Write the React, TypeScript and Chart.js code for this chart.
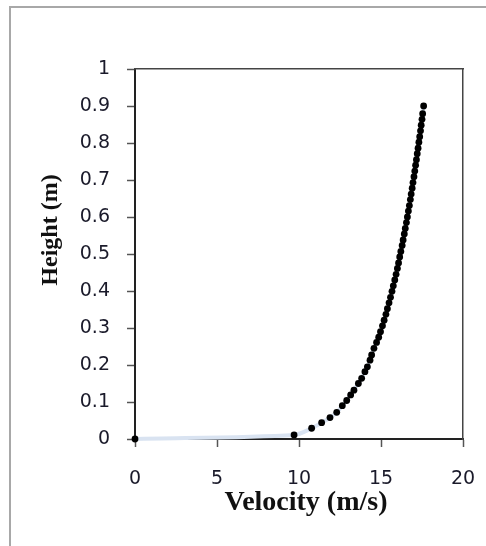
import React, { useEffect, useRef } from "react";
import { Chart, registerables } from "chart.js";

Chart.register(...registerables);

// Velocity (m/s), bottom to top
const velocity: number[] = [
  0, 9.7, 10.77, 11.38, 11.89, 12.3, 12.64, 12.91, 13.15, 13.35, 13.62, 13.82,
  14.02, 14.17, 14.33, 14.43, 14.57, 14.73, 14.86, 14.97, 15.09, 15.19, 15.3,
  15.39, 15.49, 15.58, 15.67, 15.75, 15.84, 15.92, 16.0, 16.07, 16.14, 16.21,
  16.29, 16.35, 16.42, 16.48, 16.55, 16.61, 16.67, 16.73, 16.79, 16.84, 16.9,
  16.95, 17.01, 17.06, 17.11, 17.16, 17.21, 17.26, 17.31, 17.36, 17.41, 17.45,
  17.5, 17.54, 17.6,
];

// Height (m) for each point
const height: number[] = [
  0, 0.011, 0.029, 0.044, 0.058, 0.072, 0.09, 0.104, 0.119, 0.132, 0.15, 0.164,
  0.182, 0.195, 0.213, 0.227, 0.245, 0.261, 0.275, 0.29, 0.306, 0.321, 0.337,
  0.352, 0.368, 0.383, 0.399, 0.414, 0.43, 0.445, 0.461, 0.476, 0.492, 0.507,
  0.523, 0.538, 0.554, 0.569, 0.585, 0.6, 0.616, 0.631, 0.647, 0.662, 0.678,
  0.693, 0.709, 0.724, 0.74, 0.755, 0.771, 0.786, 0.802, 0.817, 0.833, 0.848,
  0.864, 0.879, 0.9,
];

const xTickLabels: string[] = ["0", "5", "10", "15", "20"];
const yTickLabels: string[] = ["0", "0.1", "0.2", "0.3", "0.4", "0.5", "0.6", "0.7", "0.8", "0.9", "1"];

const xTitle = "Velocity (m/s)";
const yTitle = "Height (m)";

function zeroPad(s: any) {
  s.paddingLeft = 0;
  s.paddingRight = 0;
  s.paddingTop = 0;
  s.paddingBottom = 0;
}

export default function App() {
  const canvasRef = useRef<HTMLCanvasElement | null>(null);

  useEffect(() => {
    const canvas = canvasRef.current;
    if (!canvas) return;
    const points = velocity.map((v, i) => ({ x: v, y: height[i] }));
    const tickFont = { family: "'DejaVu Sans', Verdana, sans-serif", size: 19 };
    const tickColor = "#1a1a2a";
    const chart = new Chart(canvas, {
      type: "line",
      data: {
        datasets: [
          {
            data: points,
            showLine: true,
            borderColor: "#d9e3f1",
            borderWidth: 4,
            tension: 0.3,
            pointRadius: 3.4,
            pointHoverRadius: 3.4,
            pointBackgroundColor: "#000000",
            pointBorderColor: "#000000",
            pointBorderWidth: 0,
            clip: false,
          } as any,
        ],
      },
      options: {
        animation: false,
        responsive: true,
        maintainAspectRatio: false,
        events: [],
        layout: { padding: { left: 0, top: 61, right: 23, bottom: 0 } },
        plugins: {
          legend: { display: false },
          tooltip: { enabled: false },
          title: { display: false },
        },
        scales: {
          x: {
            type: "linear",
            position: "bottom",
            min: 0,
            max: 20,
            afterFit: (s: any) => {
              s.height = 107;
              zeroPad(s);
            },
            afterBuildTicks: (s: any) => {
              s.ticks = xTickLabels.map((t) => ({ value: Number(t) }));
            },
            ticks: {
              font: tickFont,
              color: tickColor,
              padding: 21,
              maxRotation: 0,
              callback: (_v: any, i: number) => xTickLabels[i],
            },
            grid: {
              display: true,
              drawOnChartArea: false,
              drawTicks: true,
              tickLength: 8,
              tickColor: "#555555",
              tickWidth: 1.5,
            },
            border: { display: true, color: "#222222", width: 2 },
            title: {
              display: true,
              text: "  " + xTitle,
              color: "#111111",
              font: { family: "'Liberation Serif', 'Times New Roman', serif", size: 28, weight: "bold" },
              padding: { top: 0, bottom: 26 },
            },
          },
          y: {
            type: "linear",
            position: "left",
            min: 0,
            max: 1,
            afterFit: (s: any) => {
              s.width = 124;
              zeroPad(s);
            },
            afterBuildTicks: (s: any) => {
              s.ticks = yTickLabels.map((t) => ({ value: Number(t) }));
            },
            ticks: {
              font: tickFont,
              color: tickColor,
              padding: 17,
              callback: (_v: any, i: number) => yTickLabels[i],
            },
            grid: {
              display: true,
              drawOnChartArea: false,
              drawTicks: true,
              tickLength: 8,
              tickColor: "#555555",
              tickWidth: 1.5,
            },
            border: { display: true, color: "#222222", width: 2 },
            title: {
              display: true,
              text: "        " + yTitle,
              color: "#111111",
              font: { family: "'Liberation Serif', 'Times New Roman', serif", size: 24, weight: "bold" },
              padding: { top: 25, bottom: 0 },
            },
          },
          x2: {
            type: "linear",
            position: "top",
            display: true,
            afterFit: (s: any) => {
              s.height = 0;
              zeroPad(s);
            },
            ticks: { display: false },
            grid: { display: false, drawTicks: false },
            border: { display: true, color: "#444444", width: 1.5 },
          },
          y2: {
            type: "linear",
            position: "right",
            display: true,
            afterFit: (s: any) => {
              s.width = 0;
              zeroPad(s);
            },
            ticks: { display: false },
            grid: { display: false, drawTicks: false },
            border: { display: true, color: "#444444", width: 1.5 },
          },
        },
      } as any,
    });
    return () => chart.destroy();
  }, []);

  return (
    <div
      style={{
        position: "absolute",
        left: 9,
        top: 6,
        width: 477,
        height: 540,
        borderLeft: "2px solid #a8a8a8",
        borderTop: "2px solid #a8a8a8",
        boxSizing: "border-box",
        background: "#ffffff",
      }}
    >
      <div style={{ position: "relative", width: 475, height: 538 }}>
        <canvas ref={canvasRef} />
      </div>
    </div>
  );
}
